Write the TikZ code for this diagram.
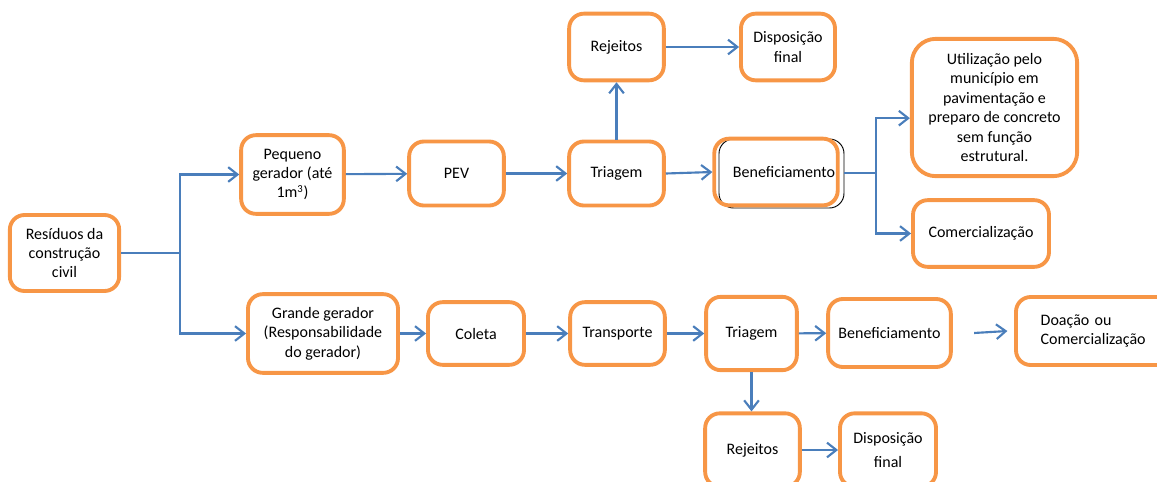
\documentclass[tikz,border=0pt]{standalone}
\usepackage{fontspec}
\setmainfont{Carlito}
\usetikzlibrary{arrows.meta}
\definecolor{boxorange}{HTML}{F79646}
\definecolor{linkblue}{HTML}{4A7EBB}
\begin{document}
\begin{tikzpicture}[x=0.75pt, y=-0.75pt,
    box/.style={draw=boxorange, line width=2.9pt, rounded corners=11pt, align=center,
        inner sep=2pt, font=\fontsize{12}{14.6}\selectfont},
    link/.style={linkblue, line width=1.6pt, -{Straight Barb[length=7pt,width=11pt]}},
    trunk/.style={linkblue, line width=1.6pt}]
    \useasboundingbox (0,0) rectangle (1157,482);
    % thin black frame behind the first Beneficiamento
    \draw[black, line width=0.7pt, rounded corners=11pt] (719,139) rectangle (844,208);
    % boxes
    \node[box, minimum width=82pt, minimum height=57pt] (res) at (64.5,253) {Resíduos da\\construção\\civil};
    \node[box, minimum width=77pt, minimum height=59pt] (peq) at (292.5,174.5) {Pequeno\\gerador (até\\1m\textsuperscript{3})};
    \node[box, minimum width=112.5pt, minimum height=59pt] (grande) at (323,333.5) {Grande gerador\\(Responsabilidade\\do gerador)};
    \node[box, minimum width=71pt, minimum height=48pt] (pev) at (456.5,173.5) {PEV};
    \node[box, minimum width=71pt, minimum height=48pt] (triA) at (616.5,173.5) {Triagem};
    \node[box, minimum width=71pt, minimum height=50pt] (rejA) at (616.5,47) {Rejeitos};
    \node[box, minimum width=70.5pt, minimum height=50pt] (dispA) at (788,47) {Disposição\\final};
    \node[box, minimum width=90pt, minimum height=50pt] (benA) at (776,172) {\hspace*{12pt}Beneficiamento};
    \node[box, rounded corners=18pt, minimum width=124pt, minimum height=103pt] (util) at (994.5,107.5)
        {Utilização pelo\\município em\\pavimentação e\\preparo de concreto\\sem função\\estrutural.};
    \node[box, minimum width=102pt, minimum height=50pt] (com) at (981,233.5) {Comercialização};
    \node[box, minimum width=72pt, minimum height=47pt] (coleta) at (476,333.5) {Coleta};
    \node[box, minimum width=71pt, minimum height=47pt] (transp) at (617.5,333.5) {Transporte};
    \node[box, minimum width=68pt, minimum height=55pt] (triB) at (751.5,333.5) {Triagem};
    \node[box, minimum width=92pt, minimum height=51pt] (benB) at (889.5,333) {Beneficiamento};
    \node[box, minimum width=117pt, minimum height=51pt, text width=80pt, align=left] (doacao) at (1094,331)
        {Doação ou\\Comercialização};
    \node[box, minimum width=71pt, minimum height=55pt] (rejB) at (752.5,450) {Rejeitos};
    \node[box, minimum width=72pt, minimum height=55pt] (dispB) at (888,450) {Disposição\\[4pt]final};
    % connectors
    \coordinate (splitA) at (180,253);
    \draw[trunk] (res.east) -- (splitA);
    \draw[link] (splitA) |- (peq.west);
    \draw[link] (splitA) |- (grande.west);
    \draw[link] (peq) -- (pev);
    \draw[link] (pev) -- (triA);
    \draw[link] (triA) -- (rejA);
    \draw[link] (rejA) -- (dispA);
    \draw[link] (triA.east) -- (benA.west);
    \coordinate (splitB) at (876,173);
    \draw[trunk] (844,173) -- (splitB);
    \draw[link] (splitB) |- ([yshift=-8pt]util.west);
    \draw[link] (splitB) |- (com.west);
    \draw[link] (grande) -- (coleta);
    \draw[link] (coleta) -- (transp);
    \draw[link] (transp) -- (triB);
    \draw[link] (triB) -- (benB);
    \draw[link] ([xshift=16pt]benB.east) -- ([xshift=-5pt]doacao.west);
    \draw[link] (triB.south) -- (triB.south |- rejB.north);
    \draw[link] (rejB) -- (dispB);
\end{tikzpicture}
\end{document}
